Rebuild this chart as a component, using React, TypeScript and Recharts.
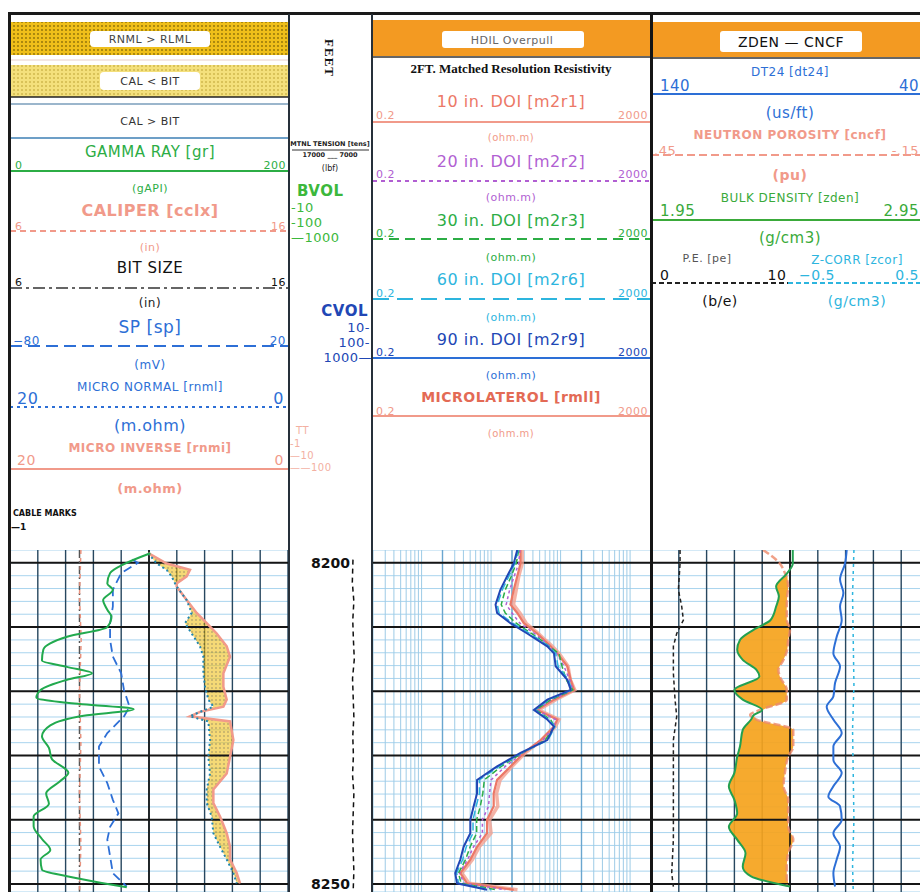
import React from 'react';
import { ComposedChart, Line, Area, XAxis, YAxis, CartesianGrid, ReferenceLine } from 'recharts';

type Pt = [number, number];

// depth frame of the log section
const depthWindow: [number, number] = [8198, 8251.25];
const minorDepthTicks = [8198, 8200, 8202, 8204, 8206, 8208, 8210, 8212, 8214, 8216, 8218, 8220, 8222, 8224, 8226, 8228, 8230, 8232, 8234, 8236, 8238, 8240, 8242, 8244, 8246, 8248, 8250];
const majorDepthLines = [8200, 8210, 8220, 8230, 8240, 8250];
const depthLabels = [8200, 8250];
const linearDivisions = [0, 1, 2, 3, 4, 5, 6, 7, 8, 9, 10];
const logDivisions = [0.2, 0.3, 0.4, 0.5, 0.6, 0.7, 0.8, 0.9, 1, 2, 3, 4, 5, 6, 7, 8, 9, 10, 20, 30, 40, 50, 60, 70, 80, 90, 100, 200, 300, 400, 500, 600, 700, 800, 900, 1000, 2000];
const logDecades = [2, 20, 200];

// track 1
const gammaRay: Pt[] = [
  [8198.5, 101], [8200.2, 82], [8201.6, 72], [8203.2, 70], [8204.2, 74], [8205.8, 67], [8207.3, 70], [8208.4, 73],
  [8210.0, 70], [8211.5, 41], [8213.5, 24], [8215.2, 23], [8216.2, 41], [8217.2, 59], [8218.2, 41], [8219.8, 22],
  [8221.0, 19], [8221.8, 41], [8222.8, 89], [8223.8, 53], [8225.3, 29], [8227.0, 23], [8228.8, 28], [8230.5, 30],
  [8232.7, 42], [8234.0, 36], [8235.9, 26], [8237.5, 28], [8239.5, 17], [8241.0, 17], [8243.0, 23], [8244.7, 29],
  [8246.2, 22], [8247.8, 23], [8248.8, 41], [8249.8, 65], [8250.5, 84],
];
const spontaneousPotential: Pt[] = [
  [8199.5, -36], [8200.0, -34], [8201.6, -40], [8204.2, -43], [8206.8, -43], [8209.4, -44], [8212.0, -44], [8214.6, -43],
  [8217.2, -40], [8219.8, -39], [8222.4, -37], [8223.9, -39], [8226.5, -45], [8228.6, -48], [8231.7, -48], [8234.3, -45],
  [8236.9, -43], [8239.0, -41], [8241.1, -44], [8243.1, -45], [8245.7, -44], [8248.3, -43], [8250.4, -38],
];
const caliper: Pt[] = [[8198, 8.55], [8205, 8.5], [8212, 8.56], [8220, 8.5], [8228, 8.55], [8236, 8.5], [8244, 8.55], [8251.2, 8.5]];
const bitSize: Pt[] = [[8198, 8.5], [8251.2, 8.5]];
const microDepths = [8198.5, 8200.1, 8201.1, 8202.1, 8203.2, 8203.7, 8205.8, 8207.8, 8209.4, 8211.0, 8213.0, 8214.6, 8217.2, 8219.3, 8221.3, 8222.4, 8223.2, 8223.9, 8224.7, 8227.6, 8230.2, 8232.8, 8235.3, 8237.4, 8239.5, 8242.1, 8244.2, 8246.2, 8248.3, 8249.9];
const microNormal = [10.05, 9.45, 8.73, 8.37, 8.13, 8.01, 7.29, 6.93, 7.41, 6.93, 6.33, 6.09, 6.09, 5.97, 5.73, 5.37, 6.33, 7.05, 5.73, 5.61, 5.73, 5.61, 5.85, 5.85, 5.49, 5.37, 4.89, 4.41, 3.93, 3.69];
const microInverse = [10.05, 8.73, 7.05, 7.29, 8.01, 8.01, 7.29, 6.57, 5.85, 5.13, 4.41, 4.17, 4.65, 4.65, 4.41, 4.65, 6.33, 7.05, 4.17, 3.93, 4.17, 4.41, 5.37, 5.37, 4.89, 4.41, 4.17, 4.17, 3.69, 3.45];

// depth track
const tension: Pt[] = [
  [8199.5, 900], [8203, 600], [8206, 1300], [8209, 800], [8212, 1100], [8215, 1500], [8218, 700], [8221, 1000], [8224, 1300],
  [8227, 800], [8230, 1100], [8233, 700], [8236, 1300], [8239, 1000], [8242, 700], [8245, 1000], [8248, 1300], [8251, 1000],
];

// track 2 (resistivity)
const resDepths = [8198.0, 8200.1, 8202.1, 8204.2, 8206.5, 8207.8, 8209.4, 8211.0, 8212.0, 8213.0, 8214.1, 8216.1, 8218.2, 8219.8, 8221.3, 8222.9, 8224.4, 8225.5, 8227.6, 8229.6, 8231.7, 8233.8, 8235.9, 8237.9, 8240.0, 8242.1, 8244.2, 8246.2, 8248.3, 8249.9, 8250.9];
const res10in = [26.5, 26.5, 23.8, 21.2, 19.0, 23.8, 29.6, 46.1, 57.5, 71.9, 89.8, 125, 140, 156, 80.4, 46.1, 89.8, 80.4, 51.6, 29.6, 19.0, 12.2, 10.9, 10.9, 8.75, 8.75, 6.28, 5.03, 3.61, 4.5, 21.2];
const res20in = [26, 25, 21.5, 18.5, 16.5, 20, 26, 42, 55, 70, 88, 112, 135, 150, 75, 45, 85, 80, 56, 29, 16, 10, 9.5, 9.2, 7.5, 7.5, 5.6, 4.6, 3.5, 4.1, 16];
const res30in = [25, 23, 19.5, 16, 14, 16, 23, 38, 52, 68, 95, 105, 120, 150, 72, 44, 72, 82, 60, 28, 14, 8, 7.6, 7, 6.2, 6.2, 5, 4.3, 3.4, 3.7, 12];
const res60in = [24.5, 22, 18, 14.5, 12.3, 13, 20.5, 36, 50, 68, 85, 92, 130, 145, 68, 43, 68, 83, 66, 27.5, 13, 6.8, 6.8, 6.1, 5.5, 5.5, 4.4, 3.9, 3.2, 3.4, 10];
const res90in = [23.8, 21.2, 17.0, 13.6, 11.6, 12.2, 19.0, 33.1, 46.1, 64.4, 80.4, 85.0, 125, 140, 64.4, 41.3, 64.4, 80.4, 64.4, 26.5, 12.2, 6.28, 6.28, 5.62, 5.03, 5.03, 4.03, 3.61, 3.05, 3.23, 8.75];
const microlaterolog = [28, 28, 25, 23, 21, 26, 32, 48, 60, 76, 95, 128, 138, 160, 85, 48, 95, 84, 54, 31, 20, 13.5, 12, 12.5, 9.5, 10, 6.8, 5.4, 3.8, 4.8, 24];

// track 3 (porosity)
const densDepths = [8198.0, 8200.1, 8201.6, 8203.7, 8205.2, 8206.8, 8208.9, 8210.4, 8212.0, 8213.5, 8215.1, 8216.7, 8217.7, 8219.8, 8221.3, 8222.9, 8223.7, 8224.4, 8226.0, 8228.6, 8230.2, 8232.7, 8234.8, 8236.9, 8239.0, 8241.1, 8243.1, 8245.2, 8247.3, 8248.8, 8250.4];
const bulkDensity = [2.46, 2.46, 2.44, 2.40, 2.41, 2.40, 2.38, 2.32, 2.27, 2.26, 2.28, 2.33, 2.34, 2.25, 2.28, 2.35, 2.32, 2.31, 2.28, 2.27, 2.26, 2.25, 2.23, 2.25, 2.26, 2.23, 2.26, 2.29, 2.28, 2.31, 2.45];
const neutronPorosity = [0.208, 0.172, 0.161, 0.154, 0.156, 0.157, 0.157, 0.150, 0.154, 0.156, 0.164, 0.175, 0.172, 0.157, 0.157, 0.215, 0.236, 0.222, 0.143, 0.143, 0.154, 0.161, 0.164, 0.154, 0.154, 0.154, 0.143, 0.154, 0.157, 0.157, 0.157];
const sonicDt: Pt[] = [
  [8198.0, 69.6], [8200.1, 70.2], [8202.6, 72.0], [8204.7, 70.8], [8206.8, 72.0], [8208.9, 71.4], [8211.5, 73.2], [8214.1, 74.4],
  [8216.1, 72.0], [8218.7, 73.8], [8220.8, 74.4], [8222.4, 76.8], [8224.4, 74.4], [8226.5, 71.4], [8228.6, 74.4], [8230.7, 74.4],
  [8232.7, 71.4], [8234.8, 74.4], [8236.4, 76.2], [8237.9, 72.0], [8240.0, 71.4], [8242.1, 74.4], [8244.2, 72.0], [8246.2, 73.2],
  [8248.3, 74.4], [8250.4, 73.8],
];
const photoElectric: Pt[] = [
  [8198, 2.09], [8200.1, 2.09], [8204.2, 1.97], [8206.8, 2.21], [8208.9, 2.33], [8211.0, 1.85], [8213.0, 1.61], [8217.2, 1.61],
  [8221.3, 1.73], [8223.9, 1.85], [8227.6, 1.61], [8232.8, 1.61], [8237.9, 1.61], [8243.1, 1.61], [8248.3, 1.49], [8250.4, 1.61],
];
const densityCorrection: Pt[] = [[8198, -0.04], [8205, -0.05], [8212, -0.045], [8219, -0.04], [8226, -0.05], [8233, -0.045], [8240, -0.04], [8247, -0.05], [8251.2, -0.045]];

const rows = (pts: Pt[]) => pts.map(([depth, v]) => ({ depth, v }));
const zipRows = (depths: number[], vals: number[]) => depths.map((depth, i) => ({ depth, v: vals[i] }));

// RNML > RMNO separation
const microFill = microDepths.map((depth, i) => ({ depth, range: [microInverse[i], microNormal[i]] }));
// neutron expressed in bulk-density units (0.45..-0.15 over 1.95..2.95) for the crossover shade
const crossoverFill = densDepths.map((depth, i) => {
  const nEq = 1.95 + (0.45 - neutronPorosity[i]) / 0.6;
  return { depth, range: [bulkDensity[i], Math.max(bulkDensity[i], nEq)] };
});

const SANS = '"DejaVu Sans", Verdana, sans-serif';
const SERIF = '"Liberation Serif", "DejaVu Serif", serif';
const C = {
  green: '#2cad45',
  red: '#ec7866',
  pale: '#f19a8a',
  blue: '#2d6fd6',
  navy: '#2147b5',
  purple: '#b15fd2',
  cyan: '#2db5de',
  orange: '#f39a22',
};

const LOG_TOP = 550;
const LOG_H = 342;
const TRACK_W = 278;

const Txt = ({ x, y, children, c = '#111', s = 12, a = 'middle', w = 400, f = SANS, ls = 0.5, rotate }: any) => (
  <text x={x} y={y} fill={c} fontSize={s} textAnchor={a} fontWeight={w} fontFamily={f} letterSpacing={ls}
    dominantBaseline="central" transform={rotate ? `rotate(${rotate} ${x} ${y})` : undefined}>{children}</text>
);

const Rule = ({ x1, x2, y, c, dash, w = 2 }: any) => (
  <line x1={x1} x2={x2} y1={y} y2={y} stroke={c} strokeWidth={w} strokeDasharray={dash} />
);

const Header = () => (
  <svg width={920} height={552} style={{ position: 'absolute', left: 0, top: 0 }}>
    <defs>
      <pattern id="dotsGold" width="4" height="4" patternUnits="userSpaceOnUse">
        <rect width="4" height="4" fill="#efbf1a" />
        <circle cx="2" cy="2" r="0.9" fill="#8c6e08" />
      </pattern>
      <pattern id="dotsPale" width="4" height="4" patternUnits="userSpaceOnUse">
        <rect width="4" height="4" fill="#f4e07c" />
        <circle cx="2" cy="2" r="0.8" fill="#b89d2c" />
      </pattern>
    </defs>

    {/* track 1 */}
    <rect x={11} y={22} width={277} height={33} fill="url(#dotsGold)" />
    <rect x={90} y={31} width={120} height={16} rx={4} fill="#fff" />
    <Txt x={150} y={39} s={11} c="#444">{'RNML > RLML'}</Txt>
    <Rule x1={10} x2={289} y={60} c="#e8cfc8" w={1} />
    <rect x={11} y={65} width={277} height={32} fill="url(#dotsPale)" />
    <rect x={100} y={72} width={100} height={18} rx={4} fill="#fff" />
    <Txt x={150} y={81} s={11} c="#333">{'CAL < BIT'}</Txt>
    <Rule x1={10} x2={289} y={97} c="#222" w={1.5} />
    <Rule x1={10} x2={289} y={104} c="#9bb6cc" w={2} />
    <Txt x={150} y={121} s={11} c="#333">{'CAL > BIT'}</Txt>
    <Rule x1={10} x2={289} y={138} c="#3d7fb5" w={1.5} />

    <Txt x={150} y={152} s={15} c={C.green}>GAMMA RAY [gr]</Txt>
    <Txt x={15} y={165} s={11} c={C.green} a="start">0</Txt>
    <Txt x={286} y={165} s={11} c={C.green} a="end">200</Txt>
    <Rule x1={10} x2={289} y={171} c={C.green} />
    <Txt x={150} y={188} s={11} c={C.green}>(gAPI)</Txt>

    <Txt x={150} y={210} s={16} c={C.pale} w={700}>CALIPER [cclx]</Txt>
    <Txt x={15} y={226} s={11} c={C.pale} a="start">6</Txt>
    <Txt x={286} y={226} s={11} c={C.pale} a="end">16</Txt>
    <Rule x1={10} x2={289} y={231} c={C.pale} dash="6 4" />
    <Txt x={150} y={247} s={11} c={C.pale}>(in)</Txt>

    <Txt x={150} y={268} s={15} c="#111">BIT SIZE</Txt>
    <Txt x={15} y={282} s={11} c="#111" a="start">6</Txt>
    <Txt x={286} y={282} s={11} c="#111" a="end">16</Txt>
    <Rule x1={10} x2={289} y={288} c="#333" dash="12 4 3 4" w={1.5} />
    <Txt x={150} y={303} s={12} c="#222">(in)</Txt>

    <Txt x={150} y={327} s={17} c={C.blue}>SP [sp]</Txt>
    <Txt x={13} y={341} s={12} c={C.blue} a="start">−80</Txt>
    <Txt x={286} y={341} s={12} c={C.blue} a="end">20</Txt>
    <Rule x1={10} x2={289} y={346} c={C.blue} dash="12 6" />
    <Txt x={150} y={365} s={12} c={C.blue}>(mV)</Txt>

    <Txt x={150} y={387} s={12} c={C.blue}>MICRO NORMAL [rnml]</Txt>
    <Txt x={17} y={398} s={16} c={C.blue} a="start">20</Txt>
    <Txt x={284} y={398} s={16} c={C.blue} a="end">0</Txt>
    <Rule x1={10} x2={289} y={407} c={C.blue} dash="3 4" />
    <Txt x={150} y={425} s={16} c={C.blue}>(m.ohm)</Txt>

    <Txt x={150} y={448} s={12} c={C.pale} w={700}>MICRO INVERSE [rnmi]</Txt>
    <Txt x={17} y={460} s={14} c={C.pale} a="start">20</Txt>
    <Txt x={284} y={460} s={14} c={C.pale} a="end">0</Txt>
    <Rule x1={10} x2={289} y={469} c={C.pale} />
    <Txt x={150} y={488} s={13} c={C.pale} w={700}>(m.ohm)</Txt>

    <Txt x={13} y={513} s={8} c="#111" a="start" w={700} ls={0}>CABLE MARKS</Txt>
    <Txt x={11} y={527} s={9} c="#111" a="start" w={700} ls={0}>—1</Txt>

    {/* depth track */}
    <Txt x={329} y={58} s={13} c="#111" f={SERIF} w={700} ls={1} rotate={90}>FEET</Txt>
    <Txt x={330} y={144} s={6.5} c="#222" w={700} ls={0}>MTNL TENSION [tens]</Txt>
    <Rule x1={292} x2={369} y={150} c="#333" w={1} />
    <Txt x={330} y={155} s={6.5} c="#222" w={700} ls={0}>17000 ___ 7000</Txt>
    <Txt x={330} y={168} s={8} c="#222" ls={0}>(lbf)</Txt>
    <Txt x={297} y={191} s={15} c="#3cb83c" a="start" w={700}>BVOL</Txt>
    <Txt x={291} y={207} s={13} c="#3cb83c" a="start">-10</Txt>
    <Txt x={291} y={222} s={13} c="#3cb83c" a="start">-100</Txt>
    <Txt x={291} y={237} s={13} c="#3cb83c" a="start">—1000</Txt>
    <Txt x={368} y={311} s={15} c={C.navy} a="end" w={700}>CVOL</Txt>
    <Txt x={370} y={327} s={13} c={C.navy} a="end">10-</Txt>
    <Txt x={370} y={342} s={13} c={C.navy} a="end">100-</Txt>
    <Txt x={372} y={357} s={13} c={C.navy} a="end">1000—</Txt>
    <Txt x={296} y={430} s={10} c="#f3b0a2" a="start">TT</Txt>
    <Txt x={290} y={443} s={10} c="#f3b0a2" a="start">-1</Txt>
    <Txt x={290} y={455} s={10} c="#f3b0a2" a="start">—10</Txt>
    <Txt x={290} y={467} s={10} c="#f3b0a2" a="start">——100</Txt>

    {/* track 2 */}
    <rect x={373} y={20} width={278} height={36} fill={C.orange} />
    <rect x={442} y={31} width={142} height={17} rx={3} fill="#fff" />
    <Txt x={512} y={40} s={11} c="#666">HDIL Overpull</Txt>
    <Rule x1={373} x2={651} y={57} c="#333" w={1.5} />
    <Txt x={511} y={68} s={13} c="#111" f={SERIF} w={700} ls={0}>2FT. Matched Resolution Resistivity</Txt>

    <Txt x={511} y={101} s={16} c={C.red}>10 in. DOI [m2r1]</Txt>
    <Txt x={376} y={115} s={11} c={C.pale} a="start">0.2</Txt>
    <Txt x={648} y={115} s={11} c={C.pale} a="end">2000</Txt>
    <Rule x1={373} x2={651} y={122} c={C.pale} />
    <Txt x={511} y={137} s={10} c={C.pale}>(ohm.m)</Txt>

    <Txt x={511} y={161} s={16} c={C.purple}>20 in. DOI [m2r2]</Txt>
    <Txt x={376} y={174} s={11} c={C.purple} a="start">0.2</Txt>
    <Txt x={648} y={174} s={11} c={C.purple} a="end">2000</Txt>
    <Rule x1={373} x2={651} y={181} c={C.purple} dash="4 4" />
    <Txt x={511} y={197} s={11} c={C.purple}>(ohm.m)</Txt>

    <Txt x={511} y={220} s={16} c={C.green}>30 in. DOI [m2r3]</Txt>
    <Txt x={376} y={233} s={11} c={C.green} a="start">0.2</Txt>
    <Txt x={648} y={233} s={11} c={C.green} a="end">2000</Txt>
    <Rule x1={373} x2={651} y={239} c={C.green} dash="10 6" />
    <Txt x={511} y={257} s={11} c={C.green}>(ohm.m)</Txt>

    <Txt x={511} y={279} s={16} c={C.cyan}>60 in. DOI [m2r6]</Txt>
    <Txt x={376} y={293} s={11} c={C.cyan} a="start">0.2</Txt>
    <Txt x={648} y={293} s={11} c={C.cyan} a="end">2000</Txt>
    <Rule x1={373} x2={651} y={299} c={C.cyan} dash="16 8" />
    <Txt x={511} y={317} s={11} c={C.cyan}>(ohm.m)</Txt>

    <Txt x={511} y={339} s={16} c={C.navy}>90 in. DOI [m2r9]</Txt>
    <Txt x={376} y={352} s={11} c={C.navy} a="start">0.2</Txt>
    <Txt x={648} y={352} s={11} c={C.navy} a="end">2000</Txt>
    <Rule x1={372} x2={651} y={358} c={C.blue} />
    <Txt x={511} y={375} s={11} c={C.blue}>(ohm.m)</Txt>

    <Txt x={511} y={397} s={14} c="#e36a55" w={700}>MICROLATEROL [rmll]</Txt>
    <Txt x={376} y={411} s={11} c={C.pale} a="start">0.2</Txt>
    <Txt x={648} y={411} s={11} c={C.pale} a="end">2000</Txt>
    <Rule x1={373} x2={651} y={416} c={C.pale} />
    <Txt x={511} y={433} s={10} c={C.pale}>(ohm.m)</Txt>

    {/* track 3 */}
    <rect x={651} y={22} width={269} height={35} fill={C.orange} />
    <rect x={720} y={31} width={142} height={21} rx={3} fill="#fff" />
    <Txt x={791} y={42} s={14} c="#111" w={500}>ZDEN — CNCF</Txt>
    <Rule x1={651} x2={920} y={58} c="#333" w={1.5} />

    <Txt x={790} y={72} s={12} c={C.blue}>DT24 [dt24]</Txt>
    <Txt x={660} y={86} s={15} c={C.blue} a="start">140</Txt>
    <Txt x={919} y={86} s={15} c={C.blue} a="end">40</Txt>
    <Rule x1={651} x2={920} y={94} c={C.blue} />
    <Txt x={790} y={113} s={15} c={C.blue}>(us/ft)</Txt>

    <Txt x={790} y={135} s={12} c={C.pale} w={700}>NEUTRON POROSITY [cncf]</Txt>
    <Txt x={654} y={150} s={13} c={C.pale} a="start">.45</Txt>
    <Txt x={919} y={150} s={13} c={C.pale} a="end">-.15</Txt>
    <Rule x1={651} x2={920} y={155} c={C.pale} dash="8 4" />
    <Txt x={790} y={175} s={14} c={C.pale} w={700}>(pu)</Txt>

    <Txt x={790} y={198} s={12} c="#3aaa3a">BULK DENSITY [zden]</Txt>
    <Txt x={660} y={211} s={15} c="#3aaa3a" a="start">1.95</Txt>
    <Txt x={919} y={211} s={15} c="#3aaa3a" a="end">2.95</Txt>
    <Rule x1={651} x2={920} y={220} c="#3aaa3a" />
    <Txt x={790} y={238} s={15} c="#3aaa3a">(g/cm3)</Txt>

    <Txt x={707} y={258} s={11} c="#555">P.E. [pe]</Txt>
    <Txt x={857} y={260} s={12} c={C.cyan}>Z-CORR [zcor]</Txt>
    <Txt x={660} y={275} s={14} c="#111" a="start">0</Txt>
    <Txt x={777} y={275} s={14} c="#111">10</Txt>
    <Rule x1={651} x2={788} y={283} c="#222" dash="5 3" />
    <Txt x={817} y={275} s={14} c={C.cyan}>−0.5</Txt>
    <Txt x={919} y={275} s={14} c={C.cyan} a="end">0.5</Txt>
    <Rule x1={788} x2={920} y={283} c={C.cyan} dash="5 3" />
    <Txt x={720} y={301} s={14} c="#111">(b/e)</Txt>
    <Txt x={857} y={301} s={14} c={C.cyan}>(g/cm3)</Txt>
  </svg>
);

const line = { isAnimationActive: false, dot: false, activeDot: false, yAxisId: 'd' } as const;

const depthAxis = (ticks: number[]) => (
  <YAxis yAxisId="d" type="number" dataKey="depth" domain={depthWindow} hide allowDataOverflow ticks={ticks} interval={0} />
);

const majorLines = (xId: string) =>
  majorDepthLines.map((d) => (
    <ReferenceLine key={`m${d}`} xAxisId={xId} yAxisId="d" y={d} stroke="#151515" strokeWidth={2} />
  ));

const Track = ({ left, width, children }: any) => (
  <div style={{ position: 'absolute', left, top: LOG_TOP, width, height: LOG_H }}>{children}</div>
);

const margin = { top: 0, right: 0, bottom: 0, left: 0 };

export default function App() {
  return (
    <div style={{ position: 'absolute', left: 0, top: 0, width: 920, height: 892, overflow: 'hidden', background: '#fff' }}>
      <Header />

      {/* track 1: GR, SP, caliper, micro curves */}
      <Track left={10} width={TRACK_W}>
        <ComposedChart layout="vertical" width={TRACK_W} height={LOG_H} margin={margin}>
          {depthAxis(minorDepthTicks)}
          <XAxis xAxisId="grid" type="number" domain={[0, 10]} ticks={linearDivisions} interval={0} hide allowDataOverflow />
          <XAxis xAxisId="gr" type="number" domain={[0, 200]} hide allowDataOverflow />
          <XAxis xAxisId="sp" type="number" domain={[-80, 20]} hide allowDataOverflow />
          <XAxis xAxisId="cal" type="number" domain={[6, 16]} hide allowDataOverflow />
          <XAxis xAxisId="micro" type="number" domain={[0, 20]} reversed hide allowDataOverflow />
          <CartesianGrid xAxisId="grid" yAxisId="d" vertical={false} stroke="#a9d4ee" />
          <CartesianGrid xAxisId="grid" yAxisId="d" horizontal={false} stroke="#27475f" strokeWidth={1.4} />
          <Area xAxisId="micro" yAxisId="d" data={microFill} dataKey="range" type="linear" stroke="none" fill="url(#dotsGold)" isAnimationActive={false} />
          <ReferenceLine xAxisId="grid" yAxisId="d" x={5} stroke="#111" strokeWidth={1.6} />
          {majorLines('grid')}
          <Line {...line} xAxisId="cal" data={rows(bitSize)} dataKey="v" stroke="#555" strokeWidth={1.5} strokeDasharray="8 3 2 3" />
          <Line {...line} xAxisId="cal" data={rows(caliper)} dataKey="v" stroke="#e8927e" strokeWidth={1.5} strokeDasharray="4 4" />
          <Line {...line} xAxisId="micro" data={zipRows(microDepths, microInverse)} dataKey="v" stroke="#f29a8a" strokeWidth={2.5} />
          <Line {...line} xAxisId="micro" data={zipRows(microDepths, microNormal)} dataKey="v" stroke="#1f86b0" strokeWidth={2} strokeDasharray="2 3" />
          <Line {...line} xAxisId="sp" data={rows(spontaneousPotential)} dataKey="v" stroke={C.blue} strokeWidth={1.8} strokeDasharray="9 5" />
          <Line {...line} xAxisId="gr" data={rows(gammaRay)} dataKey="v" type="monotone" stroke="#22aa4e" strokeWidth={2} />
        </ComposedChart>
      </Track>

      {/* depth track */}
      <Track left={289} width={84}>
        <ComposedChart layout="vertical" width={84} height={LOG_H} margin={margin}>
          <YAxis yAxisId="d" type="number" dataKey="depth" domain={depthWindow} allowDataOverflow ticks={depthLabels} interval={0}
            width={62} axisLine={false} tickLine={false} tickSize={0} tickMargin={1}
            tick={{ fill: '#111', fontSize: 14, fontWeight: 600, fontFamily: SANS }} />
          <XAxis xAxisId="tens" type="number" domain={[0, 10000]} hide allowDataOverflow />
          <Line {...line} xAxisId="tens" data={rows(tension)} dataKey="v" stroke="#111" strokeWidth={1.5} strokeDasharray="5 4" />
        </ComposedChart>
      </Track>

      {/* track 2: resistivity, log scale */}
      <Track left={373} width={TRACK_W}>
        <ComposedChart layout="vertical" width={TRACK_W} height={LOG_H} margin={margin}>
          {depthAxis(minorDepthTicks)}
          <XAxis xAxisId="res" type="number" scale="log" domain={[0.2, 2000]} ticks={logDivisions} interval={0} hide allowDataOverflow />
          <CartesianGrid xAxisId="res" yAxisId="d" vertical={false} stroke="#a9d4ee" />
          <CartesianGrid xAxisId="res" yAxisId="d" horizontal={false} stroke="#9ecbe6" strokeWidth={1} />
          {logDecades.map((v) => (
            <ReferenceLine key={`dec${v}`} xAxisId="res" yAxisId="d" x={v} stroke="#6aa6cf" strokeWidth={1.4} />
          ))}
          {majorLines('res')}
          <Line {...line} xAxisId="res" data={zipRows(resDepths, microlaterolog)} dataKey="v" stroke="#f2a090" strokeWidth={3.5} strokeOpacity={0.8} />
          <Line {...line} xAxisId="res" data={zipRows(resDepths, res10in)} dataKey="v" stroke={C.red} strokeWidth={2.2} />
          <Line {...line} xAxisId="res" data={zipRows(resDepths, res20in)} dataKey="v" stroke={C.purple} strokeWidth={1.5} strokeDasharray="3 3" />
          <Line {...line} xAxisId="res" data={zipRows(resDepths, res30in)} dataKey="v" stroke={C.green} strokeWidth={1.5} strokeDasharray="6 3" />
          <Line {...line} xAxisId="res" data={zipRows(resDepths, res60in)} dataKey="v" stroke={C.cyan} strokeWidth={1.5} strokeDasharray="8 4" />
          <Line {...line} xAxisId="res" data={zipRows(resDepths, res90in)} dataKey="v" stroke={C.navy} strokeWidth={2} />
        </ComposedChart>
      </Track>

      {/* track 3: density, neutron, sonic */}
      <Track left={651} width={TRACK_W}>
        <ComposedChart layout="vertical" width={TRACK_W} height={LOG_H} margin={margin}>
          {depthAxis(minorDepthTicks)}
          <XAxis xAxisId="grid" type="number" domain={[0, 10]} ticks={linearDivisions} interval={0} hide allowDataOverflow />
          <XAxis xAxisId="den" type="number" domain={[1.95, 2.95]} hide allowDataOverflow />
          <XAxis xAxisId="nphi" type="number" domain={[-0.15, 0.45]} reversed hide allowDataOverflow />
          <XAxis xAxisId="dt" type="number" domain={[40, 140]} reversed hide allowDataOverflow />
          <XAxis xAxisId="pe" type="number" domain={[0, 20]} hide allowDataOverflow />
          <XAxis xAxisId="zcor" type="number" domain={[-1.5, 0.5]} hide allowDataOverflow />
          <CartesianGrid xAxisId="grid" yAxisId="d" vertical={false} stroke="#a9d4ee" />
          <CartesianGrid xAxisId="grid" yAxisId="d" horizontal={false} stroke="#27475f" strokeWidth={1.4} />
          <Area xAxisId="den" yAxisId="d" data={crossoverFill} dataKey="range" type="monotone" stroke="none" fill="#f5a31c" fillOpacity={0.92} isAnimationActive={false} />
          <ReferenceLine xAxisId="grid" yAxisId="d" x={5} stroke="#111" strokeWidth={1.6} />
          {majorLines('grid')}
          <Line {...line} xAxisId="nphi" data={zipRows(densDepths, neutronPorosity)} dataKey="v" type="monotone" stroke="#ec8a6a" strokeWidth={2.5} strokeOpacity={0.8} strokeDasharray="7 3" />
          <Line {...line} xAxisId="den" data={zipRows(densDepths, bulkDensity)} dataKey="v" type="monotone" stroke="#23a050" strokeWidth={2} />
          <Line {...line} xAxisId="pe" data={rows(photoElectric)} dataKey="v" stroke="#222" strokeWidth={1.5} strokeDasharray="4 3" />
          <Line {...line} xAxisId="zcor" data={rows(densityCorrection)} dataKey="v" stroke={C.cyan} strokeWidth={1.5} strokeDasharray="3 4" />
          <Line {...line} xAxisId="dt" data={rows(sonicDt)} dataKey="v" type="monotone" stroke={C.blue} strokeWidth={2} />
        </ComposedChart>
      </Track>

      {/* frame and track separators */}
      <div style={{ position: 'absolute', left: 8, top: 12, width: 912, height: 3, background: '#1a1a1a' }} />
      <div style={{ position: 'absolute', left: 8, top: 12, width: 3, height: 880, background: '#1a1a1a' }} />
      <div style={{ position: 'absolute', left: 288, top: 14, width: 2, height: 878, background: '#26303a' }} />
      <div style={{ position: 'absolute', left: 371, top: 14, width: 2, height: 878, background: '#26303a' }} />
      <div style={{ position: 'absolute', left: 650, top: 14, width: 3, height: 878, background: '#151515' }} />
    </div>
  );
}
